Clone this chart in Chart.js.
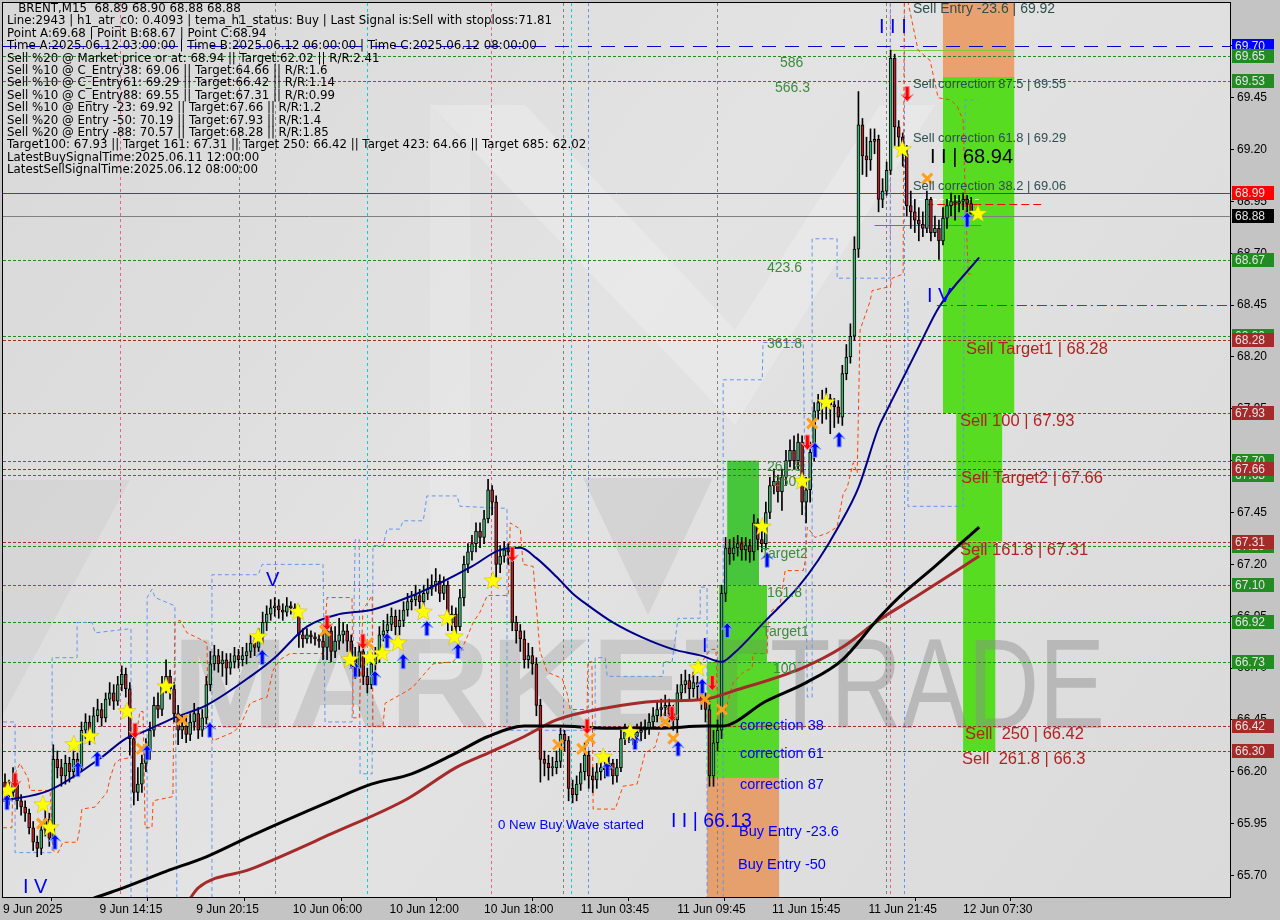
<!DOCTYPE html>
<html><head><meta charset="utf-8">
<script src="https://cdn.jsdelivr.net/npm/chart.js@4.4.1/dist/chart.umd.min.js"></script>
<style>html,body{margin:0;padding:0;background:#c4c4c4;overflow:hidden}</style>
</head><body><canvas id="c" width="1280" height="920"></canvas>
<script>
// ---------- DATA ----------
const firstOpen = 66.15;
const closes = [
66.12,66.10,66.14,66.06,66.03,66.00,65.93,65.86,65.83,65.92,
65.97,65.88,66.26,66.22,66.18,66.24,66.20,66.26,66.22,66.40,
66.44,66.38,66.47,66.50,66.46,66.55,66.58,66.54,66.62,66.67,
66.60,66.36,66.10,66.14,66.24,66.30,66.40,66.52,66.50,66.62,
66.66,66.60,66.48,66.40,66.42,66.38,66.44,66.48,66.40,66.46,
66.62,66.72,66.76,66.72,66.74,66.70,66.73,66.76,66.74,66.76,
66.78,66.82,66.80,66.85,66.92,66.96,66.99,67.00,66.98,66.97,
67.00,66.99,66.98,66.86,66.84,66.86,66.85,66.84,66.83,66.80,
66.88,66.78,66.83,66.86,66.88,66.83,66.75,66.70,66.78,66.66,
66.62,66.72,66.76,66.86,66.88,66.91,66.95,66.90,66.93,66.98,
67.02,67.03,67.05,67.02,67.06,67.08,67.10,67.12,67.06,67.10,
66.92,66.96,66.90,67.04,67.20,67.26,67.30,67.36,67.33,67.42,
67.56,67.50,67.20,67.24,67.27,67.26,66.92,66.88,66.84,66.74,
66.76,66.72,66.52,66.26,66.24,66.22,66.22,66.25,66.38,66.35,
66.12,66.09,66.14,66.20,66.28,66.18,66.16,66.20,66.22,66.21,
66.24,66.18,66.22,66.36,66.39,66.38,66.37,66.39,66.40,66.41,
66.44,66.47,66.50,66.51,66.52,66.48,66.45,66.58,66.62,66.64,
66.60,66.63,66.61,66.55,66.50,66.18,66.34,66.40,67.06,67.28,
67.25,67.28,67.30,67.27,67.29,67.26,67.40,67.32,67.30,67.45,
67.58,67.60,67.55,67.62,67.70,67.75,67.70,67.79,67.50,67.56,
67.74,67.94,67.98,67.99,68.00,67.97,67.96,67.91,68.12,68.20,
68.30,68.72,69.32,69.17,69.15,69.24,69.25,68.96,69.00,69.10,
69.64,69.31,69.26,69.18,68.93,68.90,68.86,68.84,68.82,68.96,
68.80,68.82,68.76,68.87,68.93,68.95,68.94,68.95,68.96,68.94,
68.89,68.88];
const highs = [
66.19,66.16,66.22,66.16,66.09,66.06,66.02,65.96,65.89,65.95,
66.02,66.00,66.33,66.30,66.26,66.28,66.27,66.30,66.29,66.44,
66.48,66.47,66.51,66.55,66.53,66.58,66.63,66.62,66.66,66.71,
66.70,66.63,66.40,66.22,66.28,66.36,66.44,66.56,66.58,66.66,
66.74,66.69,66.63,66.52,66.47,66.46,66.48,66.53,66.51,66.50,
66.66,66.78,66.81,66.79,66.78,66.77,66.77,66.80,66.79,66.80,
66.82,66.86,66.85,66.89,66.97,67.00,67.03,67.04,67.03,67.01,
67.04,67.02,67.01,67.00,66.89,66.89,66.88,66.87,66.86,66.88,
66.92,66.90,66.90,66.94,66.92,66.91,66.86,66.80,66.82,66.80,
66.70,66.76,66.80,66.90,66.93,66.96,66.99,66.98,66.98,67.02,
67.06,67.07,67.10,67.08,67.10,67.13,67.15,67.18,67.15,67.14,
67.12,67.00,66.99,67.08,67.24,67.30,67.34,67.40,67.40,67.46,
67.61,67.58,67.53,67.29,67.31,67.30,67.28,66.95,66.91,66.88,
66.82,66.80,66.75,66.55,66.30,66.28,66.27,66.30,66.41,66.40,
66.37,66.16,66.18,66.24,66.34,66.30,66.22,66.24,66.27,66.26,
66.28,66.26,66.26,66.40,66.43,66.42,66.41,66.43,66.44,66.45,
66.48,66.51,66.54,66.55,66.57,66.55,66.52,66.62,66.67,66.69,
66.67,66.68,66.66,66.64,66.58,66.54,66.40,66.45,67.10,67.33,
67.32,67.33,67.34,67.33,67.33,67.32,67.44,67.42,67.36,67.50,
67.62,67.66,67.63,67.66,67.75,67.80,67.82,67.83,67.82,67.62,
67.79,67.98,68.02,68.04,68.05,68.02,68.00,67.99,68.16,68.26,
68.36,68.78,69.48,69.35,69.26,69.30,69.30,69.27,69.06,69.14,
69.68,69.66,69.34,69.28,69.22,69.00,68.96,68.92,68.90,69.00,
68.97,68.88,68.86,68.92,68.96,68.99,68.98,68.98,68.99,68.98,
68.97,68.90];
const lows = [
66.07,66.04,66.08,66.02,65.99,65.96,65.90,65.82,65.79,65.80,
65.89,65.84,65.85,66.17,66.13,66.14,66.15,66.17,66.18,66.20,
66.36,66.33,66.35,66.44,66.42,66.44,66.52,66.50,66.52,66.59,
66.56,66.28,66.04,66.06,66.10,66.20,66.26,66.37,66.46,66.47,
66.58,66.55,66.44,66.33,66.36,66.34,66.35,66.40,66.36,66.37,
66.43,66.59,66.69,66.68,66.66,66.62,66.67,66.70,66.70,66.71,
66.72,66.75,66.76,66.78,66.82,66.88,66.93,66.95,66.94,66.93,
66.95,66.96,66.95,66.80,66.80,66.82,66.82,66.81,66.80,66.74,
66.74,66.73,66.75,66.79,66.82,66.78,66.70,66.65,66.66,66.62,
66.58,66.60,66.69,66.73,66.83,66.85,66.88,66.86,66.86,66.90,
66.95,66.98,67.00,66.98,66.99,67.03,67.05,67.07,67.02,67.03,
66.88,66.88,66.84,66.88,67.00,67.16,67.22,67.26,67.28,67.30,
67.40,67.44,67.14,67.16,67.21,67.20,66.88,66.82,66.78,66.70,
66.70,66.67,66.47,66.15,66.18,66.16,66.18,66.19,66.22,66.30,
66.06,66.05,66.06,66.11,66.16,66.12,66.10,66.12,66.16,66.17,
66.18,66.14,66.15,66.20,66.33,66.34,66.33,66.34,66.35,66.36,
66.38,66.41,66.44,66.46,66.47,66.44,66.40,66.38,66.54,66.58,
66.55,66.56,66.55,66.50,66.44,66.13,66.13,66.30,66.36,67.02,
67.20,67.22,67.24,67.22,67.22,67.21,67.22,67.27,67.26,67.27,
67.42,67.54,67.50,67.46,67.58,67.67,67.66,67.66,67.44,67.40,
67.50,67.70,67.90,67.88,67.90,67.83,67.86,67.88,67.87,68.09,
68.17,68.28,68.68,69.08,69.07,69.10,69.18,68.90,68.92,68.98,
69.08,69.22,69.20,69.12,68.88,68.82,68.80,68.76,68.78,68.80,
68.76,68.78,68.67,68.74,68.82,68.88,68.86,68.90,68.91,68.90,
68.89,68.88];

// moving averages (bar index, price)
const navyIdx  = [-0.5,11,24,30,34,42,50,61,67,75,83,91,100,108,116,123,128,132,137,141,145,151,158,166,173,178,181,189,197,202,207,212,217,219,227,232,242];
const navyVals = [66.06,66.11,66.27,66.36,66.39,66.46,66.52,66.66,66.75,66.90,66.96,66.98,67.04,67.11,67.19,67.27,67.28,67.23,67.14,67.06,67.00,66.92,66.85,66.79,66.76,66.73,66.77,66.93,67.09,67.22,67.38,67.57,67.86,67.94,68.25,68.44,68.68];
const blackIdx  = [22,28,40,50,61,81,91,101,112,120,129,137,150,162,174,178,189,199,208,217,222,231,242];
const blackVals = [65.59,65.63,65.72,65.79,65.89,66.06,66.14,66.19,66.29,66.37,66.42,66.42,66.41,66.41,66.42,66.42,66.54,66.63,66.74,66.94,67.04,67.19,67.38];
const brownIdx  = [46,48,61,81,100,112,120,129,137,150,162,174,181,198,208,217,226,242];
const brownVals = [65.59,65.64,65.73,65.90,66.07,66.22,66.29,66.37,66.45,66.51,66.54,66.55,66.59,66.70,66.80,66.93,67.04,67.24];

// stepped trailing / channel indicators (bar index, price); null breaks the line
const orangeIdx = [-0.5,1.7,2,3.7,5.7,6.2,11.2,11.9,13.2,14.4,17.9,18.6,19.1,22.4,23.6,25.3,26.1,27.3,28.6,31.8,33.5,34.3,34.8,36.5,36.8,41.7,42.2,43.5,45.2,48.4,50.2,50.4,51.7,56.6,58.4,60.9,63.4,65.1,66.6,68.3,70.8,79,80,86.2,86.5,88,88.9,91.2,91.4,93.9,94.4,99.9,101.4,106.3,111.3,113,114.8,116.3,118,119.8,123,125,125.5,128,128.7,131.2,132.9,134.7,138.4,139.6,140.4,144.6,144.8,145.8,146.1,151.6,153.5,157,159,161.5,164,165.7,175.2,176.6,177.1,178.4,180.9,183.4,185.6,185.8,189.3,189.6,190.6,192.5,193.8,198.3,198.8,199.3,201.2,204.2,206.7,208.2,209.2,210.7,211.7,212.4,214.2,214.9,215.4,219.9,220.4,223.1,223.4,223.6,223.9,226.8,229.8,231.8,234.8,236.5,238,238.5,239.3,240.5];
const orangeVals = [65.93,65.93,66.17,66.24,66.17,66.11,66.11,65.82,65.81,65.86,65.86,65.93,66.02,66.03,66.06,66.10,66.17,66.24,66.26,66.27,66.49,66.49,65.93,65.93,66.06,66.08,66.92,66.93,66.87,66.84,66.82,66.42,66.35,66.39,66.42,66.53,66.55,66.56,66.69,66.74,66.77,66.77,67.04,67.04,66.46,66.46,66.98,67.05,66.42,66.42,66.53,66.59,66.61,66.72,66.73,66.77,66.85,66.92,66.97,67.05,67.05,67.05,67.40,67.37,67.20,67.19,66.78,66.68,66.65,66.58,66.50,66.50,66.73,66.73,66.02,66.02,66.13,66.14,66.29,66.32,66.50,66.51,66.79,66.79,66.46,66.46,66.63,66.68,66.70,66.77,66.77,66.93,66.98,67.00,67.17,67.17,67.22,67.38,67.33,67.35,67.38,67.54,67.57,67.69,67.64,68.33,68.43,68.47,68.52,68.54,68.58,68.60,69.95,null,69.95,69.68,69.63,69.45,69.44,69.41,69.34,68.99,68.60,68.60];
const blueIdx = [-0.5,2.5,2.5,11.7,11.7,17.9,17.9,21.6,22.4,31.3,31.3,35.3,35.3,36.5,37.3,42.2,42.7,51.4,51.4,62.9,63.9,79,79.5,86.2,87,88,88.2,91.2,91.4,93.9,94.9,98.1,98.9,103.9,104.8,112.3,113,124.7,124.7,146.6,146.6,149.1,149.6,163.5,163.5,165.7,167.2,172.7,172.7,174.4,174.4,178.4,178.4,188.1,188.3,198.3,199.3,200.5,200.5,206.7,206.7,219.9,219.9,220,224.3,224.3,238,238.5,241.7];
const blueVals = [66.44,66.44,65.81,65.81,66.75,66.75,66.92,66.92,66.87,66.89,65.55,65.55,67.04,67.08,67.04,67.00,65.55,65.55,67.15,67.15,67.20,67.20,66.44,66.44,67.32,67.32,66.19,66.19,67.29,67.29,67.37,67.37,67.41,67.41,67.53,67.53,67.48,67.47,66.40,66.40,66.75,66.75,66.66,66.66,66.73,66.73,66.94,66.94,67.09,67.09,65.55,65.55,68.09,68.09,68.27,68.27,66.56,66.56,68.77,68.77,68.58,68.58,69.95,null,68.47,67.48,67.48,69.44,69.44];

// axis ticks
const xTickPos = [-0.5,23.5,47.5,71.5,95.5,119,143,167,190.5,214.5,238];
const xTickLabels = ['9 Jun 2025','9 Jun 14:15','9 Jun 20:15','10 Jun 06:00','10 Jun 12:00','10 Jun 18:00','11 Jun 03:45','11 Jun 09:45','11 Jun 15:45','11 Jun 21:45','12 Jun 07:30'];
const yTickVals = [65.70,65.95,66.20,66.45,66.70,66.95,67.20,67.45,67.70,67.95,68.20,68.45,68.70,68.95,69.20,69.45,69.70];

// price levels
const greenLevels = [69.65,69.53,68.67,68.30,67.70,67.63,67.29,67.10,66.92,66.73];
const redLevels   = [68.28,67.93,67.66,67.31,66.42,66.30];

// signal markers (bar index, price)
const starPts  = [[0.7,66.11],[9.4,66.04],[11.2,65.93],[17.1,66.33],[21.1,66.37],[30.3,66.49],[40,66.61],[62.9,66.85],[72.8,66.97],[85.7,66.74],[90.7,66.75],[93.7,66.77],[97.6,66.82],[103.9,66.97],[109.8,66.94],[111.6,66.85],[121.2,67.12],[148.6,66.27],[155.3,66.39],[172.2,66.70],[188.1,67.38],[198,67.60],[204,67.98],[222.9,69.20],[241.7,68.89]];
const upArrows = [[0.5,66.05],[12.4,65.86],[18.1,66.21],[22.9,66.26],[35.3,66.29],[50.9,66.40],[63.9,66.75],[87,66.69],[91.9,66.65],[94.9,66.83],[98.9,66.73],[104.8,66.89],[112.5,66.78],[149.6,66.21],[156.5,66.34],[167.2,66.31],[173.2,66.61],[179.4,66.88],[189.3,67.22],[201.2,67.75],[207.2,67.80],[239,68.86]];
const downArrows = [[2.5,66.16],[32.3,66.40],[80,66.92],[88.9,66.83],[126,67.25],[144.6,66.42],[165.7,66.48],[175.7,66.63],[199.3,67.79],[224.1,69.47]];
const crossPts = [[9.2,65.95],[34,66.31],[44,66.45],[79.5,66.88],[90.2,66.82],[137.4,66.33],[143.4,66.31],[145.3,66.36],[164,66.44],[166,66.36],[173.9,66.55],[178.1,66.50],[200.5,67.88],[229.1,69.06]];

// ---------- ANNOTATION TABLES ----------
const FONT = "'Liberation Sans', Arial, sans-serif";
const boxes = [ // [barFrom, barTo, priceTop, priceBottom, color]
  [233,250.7,70.2,69.55,'#e9a16f'],
  [233,250.7,69.55,67.93,'#57dc22'],
  [236.3,247.7,67.93,67.31,'#57dc22'],
  [238,246,67.31,66.30,'#57dc22'],
  [179.4,187.3,67.70,67.10,'#47c63c'],
  [177.4,189.3,67.10,66.73,'#52d12c'],
  [174.4,192.3,66.73,66.17,'#57d82a'],
  [174.4,192.3,66.17,65.0,'#e6a06e']
];
const vLines = [[28.6,'#e8609a'],[58.1,'#808080'],[67.1,'#808080'],[89.9,'#00d4e4'],[120.7,'#e8609a'],[138.6,'#808080'],[140.6,'#00d4e4'],[144.8,'#6495ed'],[176.9,'#808080'],[218.9,'#808080'],[219.9,'#e8609a'],[223.4,'#6495ed']];
const infoLines = [
 '   BRENT,M15  68.89 68.90 68.88 68.88',
 'Line:2943 | h1_atr_c0: 0.4093 | tema_h1_status: Buy | Last Signal is:Sell with stoploss:71.81',
 'Point A:69.68 | Point B:68.67 | Point C:68.94',
 'Time A:2025.06.12 03:00:00 | Time B:2025.06.12 06:00:00 | Time C:2025.06.12 08:00:00',
 'Sell %20 @ Market price or at: 68.94 || Target:62.02 || R/R:2.41',
 'Sell %10 @ C_Entry38: 69.06 || Target:64.66 || R/R:1.6',
 'Sell %10 @ C_Entry61: 69.29 || Target:66.42 || R/R:1.14',
 'Sell %10 @ C_Entry88: 69.55 || Target:67.31 || R/R:0.99',
 'Sell %10 @ Entry -23: 69.92 || Target:67.66 || R/R:1.2',
 'Sell %20 @ Entry -50: 70.19 || Target:67.93 || R/R:1.4',
 'Sell %20 @ Entry -88: 70.57 || Target:68.28 || R/R:1.85',
 'Target100: 67.93 || Target 161: 67.31 || Target 250: 66.42 || Target 423: 64.66 || Target 685: 62.02',
 'LatestBuySignalTime:2025.06.11 12:00:00',
 'LatestSellSignalTime:2025.06.12 08:00:00'
];
const labels = [ // [text, x, y, size, color]
 ['Sell Entry -23.6 | 69.92',913,9,14,'#2f4f4f'],
 ['Sell correction 87.5 | 69.55',913,84,12.9,'#2f4f4f'],
 ['Sell correction 61.8 | 69.29',913,138,12.9,'#2f4f4f'],
 ['Sell correction 38.2 | 69.06',913,186,12.9,'#2f4f4f'],
 ['I I | 68.94',930,157,20,'#000000'],
 ['I I I',879,27,20,'#0000ff'],
 ['I V',927,296,20,'#0000ff'],
 ['586',780,63,14,'#3d8b3d'],['566.3',775,88,14,'#3d8b3d'],['423.6',767,268,14,'#3d8b3d'],
 ['361.8',767,344,14,'#3d8b3d'],['261.8',767,467,14,'#3d8b3d'],['250',773,482,14,'#3d8b3d'],
 ['Target2',761,554,14,'#3d8b3d'],['161.8',767,593,14,'#3d8b3d'],['Target1',762,632,14,'#3d8b3d'],['100',773,669,14,'#3d8b3d'],
 ['Sell Target1 | 68.28',966,349,16.5,'#b22222'],['Sell 100 | 67.93',960,421,16.5,'#b22222'],
 ['Sell Target2 | 67.66',961,478,16.5,'#b22222'],['Sell 161.8 | 67.31',960,550,16.5,'#b22222'],
 ['Sell  250 | 66.42',965,734,16.5,'#b22222'],['Sell  261.8 | 66.3',962,759,16.5,'#b22222'],
 ['correction 38',740,726,14.5,'#0000ff'],['correction 61',740,754,14.5,'#0000ff'],['correction 87',740,785,14.5,'#0000ff'],
 ['I I | 66.13',671,822,19.5,'#0000ff'],['Buy Entry -23.6',739,832,14.5,'#0000ff'],['Buy Entry -50',738,865,14.5,'#0000ff'],
 ['0 New Buy Wave started',498,825,13.3,'#0000ff'],['V',266,580,20,'#0000ff'],['I V',23,887,20,'#0000ff'],['I',702,646,20,'#0000ff']
];
const axisTags = [[69.70,'#0000ff'],[69.65,'#228b22'],[69.53,'#228b22'],[68.99,'#ff0000'],[68.88,'#000000'],[68.67,'#228b22'],[68.30,'#228b22'],[68.28,'#a52a2a'],[67.93,'#a52a2a'],[67.70,'#228b22'],[67.63,'#228b22'],[67.66,'#a52a2a'],[67.29,'#228b22'],[67.31,'#a52a2a'],[67.10,'#228b22'],[66.92,'#228b22'],[66.73,'#228b22'],[66.42,'#a52a2a'],[66.30,'#a52a2a']];

// ---------- BUILD ----------
const candles = closes.map((c,i)=>({i, o: i===0?firstOpen:closes[i-1], h: highs[i], l: lows[i], c}));
const Y_MIN = 65.596, Y_MAX = 69.907;
const pairs = (xs, ys) => xs.map((v,k)=>({x:v, y:ys[k]}));

function poly(ctx, pts, fill){ctx.beginPath();pts.forEach((p,k)=>k?ctx.lineTo(p[0],p[1]):ctx.moveTo(p[0],p[1]));ctx.closePath();ctx.fillStyle=fill;ctx.fill();}

const deco = {
  id:'deco',
  beforeDraw(chart){
    const {ctx, chartArea:a} = chart;
    ctx.save();
    ctx.fillStyle='#c4c4c4'; ctx.fillRect(0,0,chart.width,chart.height);
    const g = ctx.createLinearGradient(a.left,a.top,a.right,a.bottom);
    g.addColorStop(0,'#d8d8d8'); g.addColorStop(0.45,'#e3e3e3'); g.addColorStop(1,'#dadada');
    ctx.fillStyle=g; ctx.fillRect(a.left,a.top,a.right-a.left,a.bottom-a.top);
    poly(ctx,[[430,105],[525,105],[735,330],[735,425]],'rgba(255,255,255,0.22)');
    poly(ctx,[[935,105],[880,105],[735,330],[735,425]],'rgba(255,255,255,0.22)');
    poly(ctx,[[430,105],[470,150],[470,665],[430,665]],'rgba(255,255,255,0.15)');
    poly(ctx,[[583,478],[713,478],[648,615]],'rgba(150,150,150,0.18)');
    poly(ctx,[[0,480],[130,480],[0,720]],'rgba(170,170,170,0.15)');
    ctx.restore();
  },
  beforeDatasetsDraw(chart){
    const {ctx, chartArea:a, scales:{x,y}} = chart;
    ctx.save();
    ctx.beginPath(); ctx.rect(a.left,a.top,a.right-a.left,a.bottom-a.top); ctx.clip();
    boxes.forEach(b=>{
      const x0=x.getPixelForValue(b[0]), x1=x.getPixelForValue(b[1]);
      const y0=y.getPixelForValue(b[2]), y1=y.getPixelForValue(b[3]);
      ctx.fillStyle=b[4]; ctx.fillRect(x0,y0,x1-x0,y1-y0);
    });
    ctx.textBaseline='alphabetic'; ctx.textAlign='left';
    ctx.font="bold 128px "+FONT;
    let w=ctx.measureText('MARKET').width;
    ctx.save(); ctx.translate(172,728); ctx.scale(598/w,1);
    ctx.fillStyle='rgba(120,120,120,0.22)'; ctx.fillText('MARKET',0,0); ctx.restore();
    ctx.font="128px "+FONT;
    w=ctx.measureText('TRADE').width;
    ctx.save(); ctx.translate(770,728); ctx.scale(335/w,1);
    ctx.fillStyle='rgba(140,140,140,0.45)'; ctx.fillText('TRADE',0,0); ctx.restore();
    ctx.lineWidth=1; ctx.setLineDash([3,3]);
    vLines.forEach(v=>{const px=Math.round(x.getPixelForValue(v[0]))+0.5; ctx.strokeStyle=v[1]; ctx.beginPath(); ctx.moveTo(px,a.top); ctx.lineTo(px,a.bottom); ctx.stroke();});
    ctx.setLineDash([3,2]);
    const hl=(p,c)=>{const py=Math.round(y.getPixelForValue(p))+0.5; ctx.strokeStyle=c; ctx.beginPath(); ctx.moveTo(a.left,py); ctx.lineTo(a.right,py); ctx.stroke();};
    greenLevels.forEach(p=>hl(p,'#1f8a1f'));
    redLevels.forEach(p=>hl(p,'#a52a2a'));
    ctx.setLineDash([]);
    hl(68.99,'#ff0000'); hl(68.88,'#808080');
    ctx.setLineDash([14,9]); hl(69.70,'#0000cc');
    const seg=(p,b0,b1,c,dash)=>{ctx.setLineDash(dash);const py=Math.round(y.getPixelForValue(p))+0.5;ctx.strokeStyle=c;ctx.beginPath();ctx.moveTo(x.getPixelForValue(b0),py);ctx.lineTo(x.getPixelForValue(b1),py);ctx.stroke();};
    seg(68.45,231.5,310,'#ff0000',[10,4,2,4]);
    seg(68.94,228.6,258,'#ff0000',[8,4]);
    seg(69.68,219.6,250.7,'#7ccd3c',[]);
    seg(68.835,216,242.5,'#ff4500',[]);
    seg(68.96,223.5,242.5,'#ffffff',[4,3]);
    ctx.restore();
  },
  afterDatasetsDraw(chart){
    const {ctx, chartArea:a, scales:{x,y}} = chart;
    ctx.save();
    ctx.beginPath(); ctx.rect(a.left,a.top,a.right-a.left,a.bottom-a.top); ctx.clip();
    const P=(m)=>[x.getPixelForValue(m[0]), y.getPixelForValue(m[1])];
    crossPts.forEach(m=>{const [cx,cy]=P(m); ctx.strokeStyle='#ff9f1a'; ctx.lineWidth=3; ctx.beginPath(); ctx.moveTo(cx-5,cy-5); ctx.lineTo(cx+5,cy+5); ctx.moveTo(cx+5,cy-5); ctx.lineTo(cx-5,cy+5); ctx.stroke();});
    upArrows.forEach(m=>{const [cx,cy]=P(m); const pts=[[0,-8],[6,-1],[2,-3],[2,7],[-2,7],[-2,-3],[-6,-1]].map(q=>[cx+q[0],cy+q[1]]); poly(ctx,pts,'#0000ff'); ctx.strokeStyle='#7aa0ff'; ctx.lineWidth=1; ctx.stroke();});
    downArrows.forEach(m=>{const [cx,cy]=P(m); const pts=[[0,8],[6,1],[2,3],[2,-7],[-2,-7],[-2,3],[-6,1]].map(q=>[cx+q[0],cy+q[1]]); poly(ctx,pts,'#ff0000'); ctx.strokeStyle='#ff8080'; ctx.lineWidth=1; ctx.stroke();});
    starPts.forEach(m=>{const [cx,cy]=P(m); const pts=[]; for(let k=0;k<10;k++){const r=k%2?4:9.5; const an=-Math.PI/2+k*Math.PI/5; pts.push([cx+r*Math.cos(an), cy+r*Math.sin(an)]);} poly(ctx,pts,'#ffff00'); ctx.strokeStyle='rgba(190,170,0,0.7)'; ctx.lineWidth=0.6; ctx.stroke();});
    ctx.textBaseline='middle'; ctx.textAlign='left';
    ctx.font="11.8px 'DejaVu Sans', sans-serif"; ctx.fillStyle='#000';
    infoLines.forEach((s,k)=>ctx.fillText(s,7,9+k*12.4));
    labels.forEach(l=>{ctx.font=l[3]+"px "+FONT; ctx.fillStyle=l[4]; ctx.fillText(l[0],l[1],l[2]);});
    ctx.restore();
  },
  afterDraw(chart){
    const {ctx, chartArea:a, scales:{y}} = chart;
    ctx.save();
    ctx.strokeStyle='#000'; ctx.lineWidth=1;
    ctx.strokeRect(a.left-0.5,a.top-0.5,a.right-a.left+1,a.bottom-a.top+1);
    ctx.font="12px "+FONT; ctx.textBaseline='middle'; ctx.textAlign='left';
    axisTags.forEach(t=>{const py=Math.round(y.getPixelForValue(t[0])); ctx.fillStyle=t[1]; ctx.fillRect(a.right+2,py-7,42,14); ctx.fillStyle='#e4e4e4'; ctx.fillText(t[0].toFixed(2),a.right+5,py+0.5);});
    ctx.restore();
  }
};

const axisFont = {family:"'Liberation Sans', Arial, sans-serif", size:12};
new Chart(document.getElementById('c').getContext('2d'), {
  type:'bar',
  data:{datasets:[
    {type:'line', data:pairs(navyIdx,navyVals), borderColor:'#00008b', borderWidth:2, pointRadius:0, cubicInterpolationMode:'monotone', order:1},
    {type:'line', data:pairs(blackIdx,blackVals), borderColor:'#000000', borderWidth:3, pointRadius:0, cubicInterpolationMode:'monotone', order:1},
    {type:'line', data:pairs(brownIdx,brownVals), borderColor:'#a52a2a', borderWidth:3, pointRadius:0, cubicInterpolationMode:'monotone', order:1},
    {type:'line', data:pairs(orangeIdx,orangeVals), borderColor:'#ff4500', borderWidth:1, borderDash:[4,3], pointRadius:0, spanGaps:false, order:4},
    {type:'line', data:pairs(blueIdx,blueVals), borderColor:'#6495ed', borderWidth:1, borderDash:[4,3], pointRadius:0, spanGaps:false, order:4},
    {data:candles.map(r=>({x:r.i,y:[r.o,r.c]})), backgroundColor:candles.map(r=>r.c>=r.o?'#3cb371':'#b22222'), borderColor:'#000', borderWidth:1, borderSkipped:false, barThickness:3, minBarLength:1, grouped:false, order:2},
    {data:candles.map(r=>({x:r.i,y:[r.l,r.h]})), backgroundColor:'#000', borderWidth:0, barThickness:1, grouped:false, order:3}
  ]},
  options:{
    animation:false, responsive:false, events:[],
    layout:{padding:{left:3,top:3,right:0,bottom:0}},
    plugins:{legend:{display:false}, tooltip:{enabled:false}},
    scales:{
      x:{type:'linear', min:-0.5, max:304.3, offset:false,
         afterFit(s){s.height=23; s.paddingLeft=0; s.paddingRight=0;},
         afterBuildTicks(s){s.ticks=xTickPos.map(v=>({value:v}));},
         ticks:{autoSkip:false, maxRotation:0, align:'start', padding:1, color:'#000', font:axisFont, callback:(v,i)=>xTickLabels[i]},
         grid:{drawOnChartArea:false, drawTicks:true, tickLength:4, color:'#000'},
         border:{display:true, color:'#000'}},
      y:{position:'right', min:Y_MIN, max:Y_MAX,
         afterFit(s){s.width=50; s.paddingTop=0; s.paddingBottom=0;},
         afterBuildTicks(s){s.ticks=yTickVals.map(v=>({value:v}));},
         ticks:{padding:3, color:'#000', font:axisFont, callback:v=>Number(v).toFixed(2)},
         grid:{drawOnChartArea:false, drawTicks:true, tickLength:4, color:'#000'},
         border:{display:true, color:'#000'}}
    }
  },
  plugins:[deco]
});
</script>
</body></html>
